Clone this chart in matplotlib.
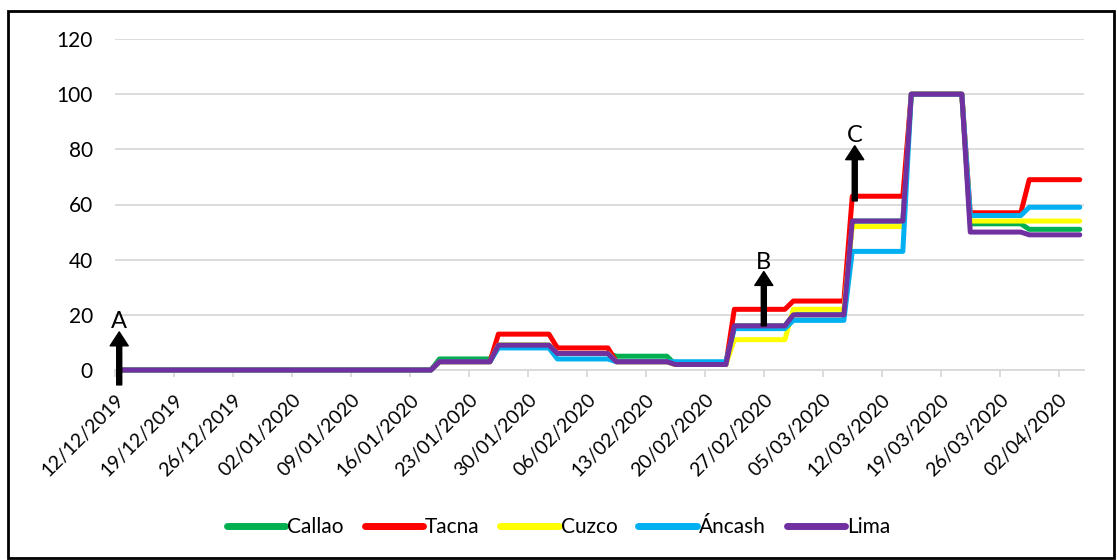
import numpy as np
import pandas as pd
import matplotlib
matplotlib.use("Agg")
from matplotlib import pyplot as plt
import matplotlib.dates as mdates
from matplotlib.patches import Rectangle

# weekly search interest (Sunday-to-Saturday weeks, first week is partial)
week_starts = ["2019-12-12", "2019-12-15", "2019-12-22", "2019-12-29", "2020-01-05",
               "2020-01-12", "2020-01-19", "2020-01-26", "2020-02-02", "2020-02-09",
               "2020-02-16", "2020-02-23", "2020-03-01", "2020-03-08", "2020-03-15",
               "2020-03-22", "2020-03-29"]
last_day = "2020-04-04"

regions = ["Callao", "Tacna", "Cuzco", "Áncash", "Lima"]
callao = [0, 0, 0, 0, 0, 0, 4, 9, 6, 5, 2, 16, 20, 54, 100, 53, 51]
tacna = [0, 0, 0, 0, 0, 0, 3, 13, 8, 3, 2, 22, 25, 63, 100, 57, 69]
cuzco = [0, 0, 0, 0, 0, 0, 3, 9, 6, 3, 2, 11, 22, 52, 100, 54, 54]
ancash = [0, 0, 0, 0, 0, 0, 3, 8, 4, 3, 3, 15, 18, 43, 100, 56, 59]
lima = [0, 0, 0, 0, 0, 0, 3, 9, 6, 3, 2, 16, 20, 54, 100, 50, 49]
colors = ["#00B050", "#FF0000", "#FFFF00", "#00B0F0", "#7030A0"]

# arrows: label, date, base, tip, label height
marks = ["A", "B", "C"]
mark_dates = ["2019-12-12 12:00", "2020-02-27 00:00", "2020-03-08 19:00"]
mark_base = [-5.4, 16, 61.3]
mark_tip = [13.8, 35.7, 81.3]
mark_text_y = [17.6, 38.8, 85]

plt.rcParams['font.family'] = ['Lato', 'DejaVu Sans']

days = pd.date_range(week_starts[0], last_day, freq="D")
starts = pd.to_datetime(week_starts)
ends = list(starts[1:]) + [pd.Timestamp(last_day) + pd.Timedelta(days=1)]
counts = [(e - s).days for s, e in zip(starts, ends)]
x = days + pd.Timedelta(hours=12)  # points centred in each day slot

fig = plt.figure(figsize=(11.17, 5.6), dpi=100)
ax = fig.add_axes([115 / 1117, 1 - 370 / 560, (1084 - 115) / 1117, (370 - 39) / 560])

for name, vals, c in zip(regions, [callao, tacna, cuzco, ancash, lima], colors):
    daily = np.repeat(vals, counts)
    ax.plot(x, daily, color=c, lw=3.6, label=name, solid_capstyle="round",
            solid_joinstyle="round", clip_on=False, zorder=3)

ax.set_ylim(0, 120)
ax.set_yticks(range(0, 121, 20))
ax.set_xlim(pd.Timestamp(week_starts[0]), pd.Timestamp(last_day) + pd.Timedelta(days=1))
ax.set_xticks(pd.date_range(week_starts[0], "2020-04-02", freq="7D"))
ax.xaxis.set_major_formatter(mdates.DateFormatter("%d/%m/%Y"))

ax.grid(axis="y", color="#D9D9D9", lw=1.3)
ax.set_axisbelow(True)
for s in ["top", "right", "left"]:
    ax.spines[s].set_visible(False)
ax.spines["bottom"].set_color("#D9D9D9")
ax.spines["bottom"].set_linewidth(1.3)
ax.tick_params(axis="y", length=0, pad=16, labelsize=15)
ax.tick_params(axis="x", length=5, color="#D9D9D9", width=1.3, labelsize=14, pad=10)
for lab in ax.get_xticklabels():
    lab.set_rotation(45)
    lab.set_ha("right")
    lab.set_rotation_mode("anchor")

for m, d, b, t, ty in zip(marks, mark_dates, mark_base, mark_tip, mark_text_y):
    xd = pd.Timestamp(d)
    ax.annotate("", xy=(xd, t), xytext=(xd, b), annotation_clip=False, zorder=4,
                arrowprops=dict(facecolor="black", edgecolor="black", width=3.6,
                                headwidth=13, headlength=10, shrink=0))
    ax.text(xd, ty, m, ha="center", va="center", fontsize=17, zorder=4)

leg = fig.legend(loc="center", bbox_to_anchor=(0.5, 1 - 527 / 560), ncol=5, frameon=False,
                 fontsize=15, handlelength=2.8, handletextpad=0.1, columnspacing=1.0)
for ln in leg.get_lines():
    ln.set_linewidth(5)
    ln.set_solid_capstyle("round")

fig.add_artist(Rectangle((8 / 1117, 2 / 560), 1106 / 1117, 547 / 560, transform=fig.transFigure,
                         fill=False, edgecolor="black", lw=2))

fig.savefig("out.png", dpi=100)
